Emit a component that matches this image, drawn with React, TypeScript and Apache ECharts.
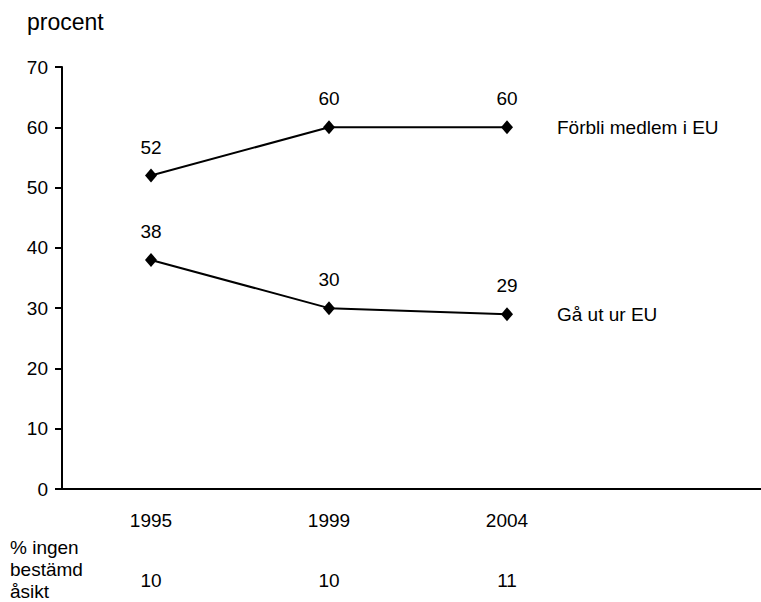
import React, { useEffect, useRef } from "react";
import * as echarts from "echarts";

const years = ["1995", "1999", "2004", ""];
const stayValues = [52, 60, 60];
const leaveValues = [38, 30, 29];
const noOpinion = ["10", "10", "11", ""];
const seriesNames = ["Förbli medlem i EU", "Gå ut ur EU"];
const yTitle = "procent";
const noOpinionTitle = "% ingen\nbestämd\nåsikt";

const FONT = "Liberation Sans, Arial, sans-serif";
const FS = 19;

export default function App() {
  const ref = useRef<HTMLDivElement>(null);
  useEffect(() => {
    if (!ref.current) return;
    const chart = echarts.init(ref.current, undefined, { renderer: "svg" });
    const lineSeries = (name: string, data: number[]) => ({
      type: "line",
      name,
      data,
      xAxisIndex: 0,
      symbol: "diamond",
      symbolSize: [12, 14],
      itemStyle: { color: "#000" },
      lineStyle: { color: "#000", width: 2 },
      label: {
        show: true,
        position: "top",
        distance: 12,
        color: "#000",
        fontSize: FS,
        fontFamily: FONT,
      },
      endLabel: {
        show: true,
        formatter: name,
        distance: 50,
        color: "#000",
        fontSize: FS,
        fontFamily: FONT,
      },
    });
    chart.setOption({
      animation: false,
      backgroundColor: "#fff",
      textStyle: { fontFamily: FONT },
      grid: {
        left: 62,
        top: 67,
        width: 712,
        height: 422,
        containLabel: false,
        outerBoundsMode: "none",
      },
      xAxis: [
        {
          type: "category",
          data: years,
          boundaryGap: true,
          axisLine: { lineStyle: { color: "#000", width: 2 } },
          axisTick: { show: false },
          axisLabel: { color: "#000", fontSize: FS, margin: 22, fontFamily: FONT },
          splitLine: { show: false },
        },
        {
          type: "category",
          data: noOpinion,
          position: "bottom",
          offset: 60,
          boundaryGap: true,
          axisLine: { show: false },
          axisTick: { show: false },
          axisLabel: { color: "#000", fontSize: FS, margin: 22, fontFamily: FONT },
          splitLine: { show: false },
        },
      ],
      yAxis: {
        type: "value",
        min: 0,
        max: 70,
        interval: 10,
        axisLine: { show: true, lineStyle: { color: "#000", width: 2 } },
        axisTick: { show: true, length: 7, lineStyle: { color: "#000", width: 2 } },
        axisLabel: { color: "#000", fontSize: FS, margin: 14, fontFamily: FONT },
        splitLine: { show: false },
      },
      graphic: [
        {
          type: "text",
          left: 27,
          top: 10,
          style: { text: yTitle, fontSize: 23, fill: "#000", fontFamily: FONT },
        },
        {
          type: "text",
          left: 10,
          top: 536,
          style: {
            text: noOpinionTitle,
            fontSize: FS,
            lineHeight: 22,
            fill: "#000",
            fontFamily: FONT,
          },
        },
      ],
      series: [lineSeries(seriesNames[0], stayValues), lineSeries(seriesNames[1], leaveValues)],
    });
    return () => chart.dispose();
  }, []);
  return (
    <div
      ref={ref}
      style={{ position: "fixed", left: 0, top: 0, width: 761, height: 602 }}
    />
  );
}
